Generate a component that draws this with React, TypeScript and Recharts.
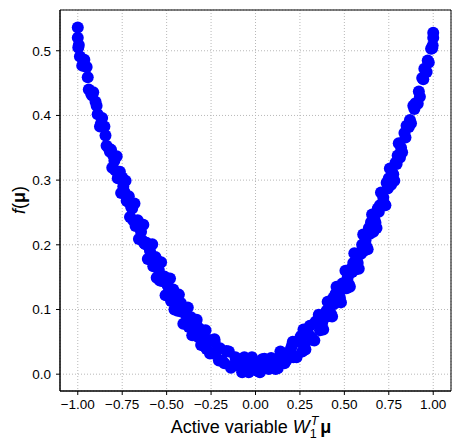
import { ScatterChart, Scatter, XAxis, YAxis, CartesianGrid, ReferenceArea } from 'recharts';

// samples, first sweep (every 0.025)
const bandAX = [
  -1.0, -0.975, -0.95, -0.925, -0.9, -0.875, -0.85, -0.825, -0.8, -0.775,
  -0.75, -0.725, -0.7, -0.675, -0.65, -0.625, -0.6, -0.575, -0.55, -0.525,
  -0.5, -0.475, -0.45, -0.425, -0.4, -0.375, -0.35, -0.325, -0.3, -0.275,
  -0.25, -0.225, -0.2, -0.175, -0.15, -0.125, -0.1, -0.075, -0.05, -0.025,
  0.0, 0.025, 0.05, 0.075, 0.1, 0.125, 0.15, 0.175, 0.2, 0.225,
  0.25, 0.275, 0.3, 0.325, 0.35, 0.375, 0.4, 0.425, 0.45, 0.475,
  0.5, 0.525, 0.55, 0.575, 0.6, 0.625, 0.65, 0.675, 0.7, 0.725,
  0.75, 0.775, 0.8, 0.825, 0.85, 0.875, 0.9, 0.925, 0.95, 0.975, 1.0,
];
const bandAF = [
  0.52, 0.477, 0.475, 0.434, 0.421, 0.383, 0.383, 0.349, 0.338, 0.303,
  0.304, 0.268, 0.259, 0.229, 0.232, 0.202, 0.2, 0.167, 0.175, 0.144,
  0.141, 0.113, 0.123, 0.099, 0.098, 0.073, 0.084, 0.058, 0.059, 0.039,
  0.052, 0.032, 0.04, 0.017, 0.035, 0.014, 0.021, 0.003, 0.023, 0.009,
  0.018, 0.003, 0.024, 0.008, 0.019, 0.009, 0.032, 0.022, 0.04, 0.027,
  0.055, 0.044, 0.061, 0.053, 0.083, 0.079, 0.098, 0.093, 0.124, 0.118,
  0.139, 0.139, 0.172, 0.172, 0.2, 0.197, 0.235, 0.234, 0.261, 0.263,
  0.303, 0.309, 0.338, 0.343, 0.384, 0.388, 0.419, 0.429, 0.472, 0.482, 0.52,
];

// second sweep, in between
const bandBX = [
  -0.988, -0.963, -0.938, -0.913, -0.888, -0.863, -0.838, -0.813, -0.788, -0.763,
  -0.738, -0.713, -0.688, -0.663, -0.638, -0.613, -0.588, -0.563, -0.538, -0.513,
  -0.488, -0.463, -0.438, -0.413, -0.388, -0.363, -0.338, -0.313, -0.288, -0.263,
  -0.238, -0.213, -0.188, -0.163, -0.138, -0.113, -0.088, -0.063, -0.038, -0.013,
  0.013, 0.038, 0.063, 0.088, 0.113, 0.138, 0.163, 0.188, 0.213, 0.238,
  0.263, 0.288, 0.313, 0.338, 0.363, 0.388, 0.413, 0.438, 0.463, 0.488,
  0.513, 0.538, 0.563, 0.588, 0.613, 0.638, 0.663, 0.688, 0.713, 0.738,
  0.763, 0.788, 0.813, 0.838, 0.863, 0.888, 0.913, 0.938, 0.963, 0.988,
];
const bandBF = [
  0.491, 0.486, 0.44, 0.436, 0.402, 0.396, 0.353, 0.347, 0.315, 0.313,
  0.282, 0.275, 0.238, 0.238, 0.207, 0.203, 0.176, 0.181, 0.145, 0.151,
  0.127, 0.131, 0.098, 0.102, 0.08, 0.088, 0.067, 0.07, 0.043, 0.053,
  0.032, 0.038, 0.021, 0.036, 0.01, 0.026, 0.012, 0.026, 0.003, 0.017,
  0.005, 0.023, 0.012, 0.025, 0.008, 0.028, 0.017, 0.033, 0.026, 0.051,
  0.035, 0.061, 0.057, 0.081, 0.068, 0.092, 0.09, 0.118, 0.117, 0.14,
  0.133, 0.163, 0.162, 0.188, 0.191, 0.226, 0.22, 0.256, 0.262, 0.296,
  0.293, 0.327, 0.335, 0.373, 0.382, 0.415, 0.418, 0.458, 0.467, 0.503,
];

// third sweep along the steep arms, close to the middle of the band
const bandCX = [
  -0.994, -0.969, -0.944, -0.919, -0.894, -0.869, -0.844, -0.819, -0.794, -0.769,
  -0.744, -0.719, -0.694, -0.669, -0.644, -0.619, -0.594, -0.569, -0.544, -0.519,
  -0.494, -0.469, -0.444, -0.419, -0.394, -0.369,
  0.369, 0.394, 0.419, 0.444, 0.469, 0.494, 0.519, 0.544, 0.569, 0.594,
  0.619, 0.644, 0.669, 0.694, 0.719, 0.744, 0.769, 0.794, 0.819, 0.844,
  0.869, 0.894, 0.919, 0.944, 0.969, 0.994,
];
const bandCF = [
  0.509, 0.48, 0.459, 0.431, 0.415, 0.388, 0.369, 0.344, 0.33, 0.306,
  0.29, 0.267, 0.256, 0.234, 0.22, 0.201, 0.191, 0.172, 0.161, 0.144,
  0.137, 0.12, 0.112, 0.097, 0.093, 0.078,
  0.082, 0.088, 0.103, 0.109, 0.125, 0.132, 0.15, 0.158, 0.177, 0.186,
  0.207, 0.217, 0.239, 0.251, 0.273, 0.287, 0.311, 0.325, 0.35, 0.366,
  0.393, 0.41, 0.437, 0.456, 0.485, 0.504,
];

// fourth sweep: the wider edges of the band on both arms
const bandDX = [
  -0.806, -0.781, -0.756, -0.731, -0.706, -0.681, -0.656, -0.631, -0.606, -0.581,
  -0.556, -0.531, -0.506, -0.481, -0.456, -0.431, -0.406, -0.381, -0.356, -0.331,
  -0.306, -0.281, -0.256, -0.231, -0.206,
  0.206, 0.231, 0.256, 0.281, 0.306, 0.331, 0.356, 0.381, 0.406, 0.431,
  0.456, 0.481, 0.506, 0.531, 0.556, 0.581, 0.606, 0.631, 0.656, 0.681,
  0.706, 0.731, 0.756, 0.781, 0.806,
];
const bandDF = [
  0.319, 0.337, 0.28, 0.299, 0.243, 0.264, 0.209, 0.231, 0.178, 0.201,
  0.149, 0.173, 0.122, 0.148, 0.1, 0.123, 0.078, 0.103, 0.06, 0.084,
  0.045, 0.068, 0.032, 0.054, 0.021,
  0.045, 0.026, 0.059, 0.038, 0.075, 0.052, 0.092, 0.069, 0.112, 0.089,
  0.135, 0.111, 0.16, 0.135, 0.187, 0.163, 0.216, 0.193, 0.247, 0.226,
  0.281, 0.261, 0.318, 0.299, 0.357,
];

// stray points at the ends and bumps along the band
const extraX = [-1.0, -0.997, 0.997, 1.0, -0.02, 0.02, -0.06, 0.06, -0.42, -0.33, 0.21, 0.27, -0.23, 0.14];
const extraF = [0.536, 0.505, 0.508, 0.528, 0.026, 0.013, 0.008, 0.016, 0.11, 0.075, 0.05, 0.069, 0.05, 0.035];

const xTicks = [-1, -0.75, -0.5, -0.25, 0, 0.25, 0.5, 0.75, 1];
const yTicks = [0, 0.1, 0.2, 0.3, 0.4, 0.5];

const X_DOMAIN: [number, number] = [-1.1, 1.1];
const Y_DOMAIN: [number, number] = [-0.026, 0.563];

const points = [
  ...bandAX.map((x, i) => ({ x, y: bandAF[i] })),
  ...bandBX.map((x, i) => ({ x, y: bandBF[i] })),
  ...bandCX.map((x, i) => ({ x, y: bandCF[i] })),
  ...bandDX.map((x, i) => ({ x, y: bandDF[i] })),
  ...extraX.map((x, i) => ({ x, y: extraF[i] })),
];

const FONT = '"Liberation Sans", Arial, Helvetica, sans-serif';
const tickStyle = { fontSize: 13.5, fill: '#000', fontFamily: FONT };
const minus = (s: string) => s.replace('-', '\u2212');

const Dot = (props: any) => <circle cx={props.cx} cy={props.cy} r={6} fill="#0000ff" />;

const XTitle = () => (
  <text x={251} y={433} textAnchor="middle" fontSize={18} fontFamily={FONT} fill="#000">
    Active variable{' '}
    <tspan fontStyle="italic">W</tspan>
    <tspan fontSize={12.5} dy={5}>1</tspan>
    <tspan fontSize={12.5} fontStyle="italic" dx={-6} dy={-13}>T</tspan>
    <tspan fontWeight="bold" dx={2} dy={8}>μ</tspan>
  </text>
);

const YTitle = () => (
  <text
    x={25}
    y={200}
    transform="rotate(-90, 25, 200)"
    textAnchor="middle"
    fontSize={18}
    fontFamily={FONT}
    fill="#000"
  >
    <tspan fontStyle="italic">f</tspan>
    <tspan>(</tspan>
    <tspan fontWeight="bold">μ</tspan>
    <tspan>)</tspan>
  </text>
);

export default function App() {
  return (
    <div style={{ position: 'absolute', left: 0, top: 0, width: 461, height: 448, background: '#fff' }}>
      <ScatterChart width={461} height={448} margin={{ top: 10, right: 10, bottom: 0, left: 0 }}>
        <CartesianGrid stroke="#b8b8b8" strokeDasharray="1 2" />
        <XAxis
          type="number"
          dataKey="x"
          domain={X_DOMAIN}
          ticks={xTicks}
          allowDataOverflow
          height={57}
          tickSize={4}
          tickMargin={4}
          tick={tickStyle}
          tickFormatter={(v: number) => minus(v.toFixed(2))}
          axisLine={{ stroke: '#000' }}
          tickLine={{ stroke: '#000' }}
          label={{ content: () => <XTitle /> }}
        />
        <YAxis
          type="number"
          dataKey="y"
          domain={Y_DOMAIN}
          ticks={yTicks}
          allowDataOverflow
          width={60}
          tickSize={4}
          tickMargin={5}
          tick={tickStyle}
          tickFormatter={(v: number) => v.toFixed(1)}
          axisLine={{ stroke: '#000' }}
          tickLine={{ stroke: '#000' }}
          label={{ content: () => <YTitle /> }}
        />
        <Scatter data={points} shape={<Dot />} isAnimationActive={false} />
        <ReferenceArea
          x1={X_DOMAIN[0]}
          x2={X_DOMAIN[1]}
          y1={Y_DOMAIN[0]}
          y2={Y_DOMAIN[1]}
          fill="none"
          stroke="#000"
          strokeWidth={1}
          ifOverflow="visible"
        />
      </ScatterChart>
    </div>
  );
}
